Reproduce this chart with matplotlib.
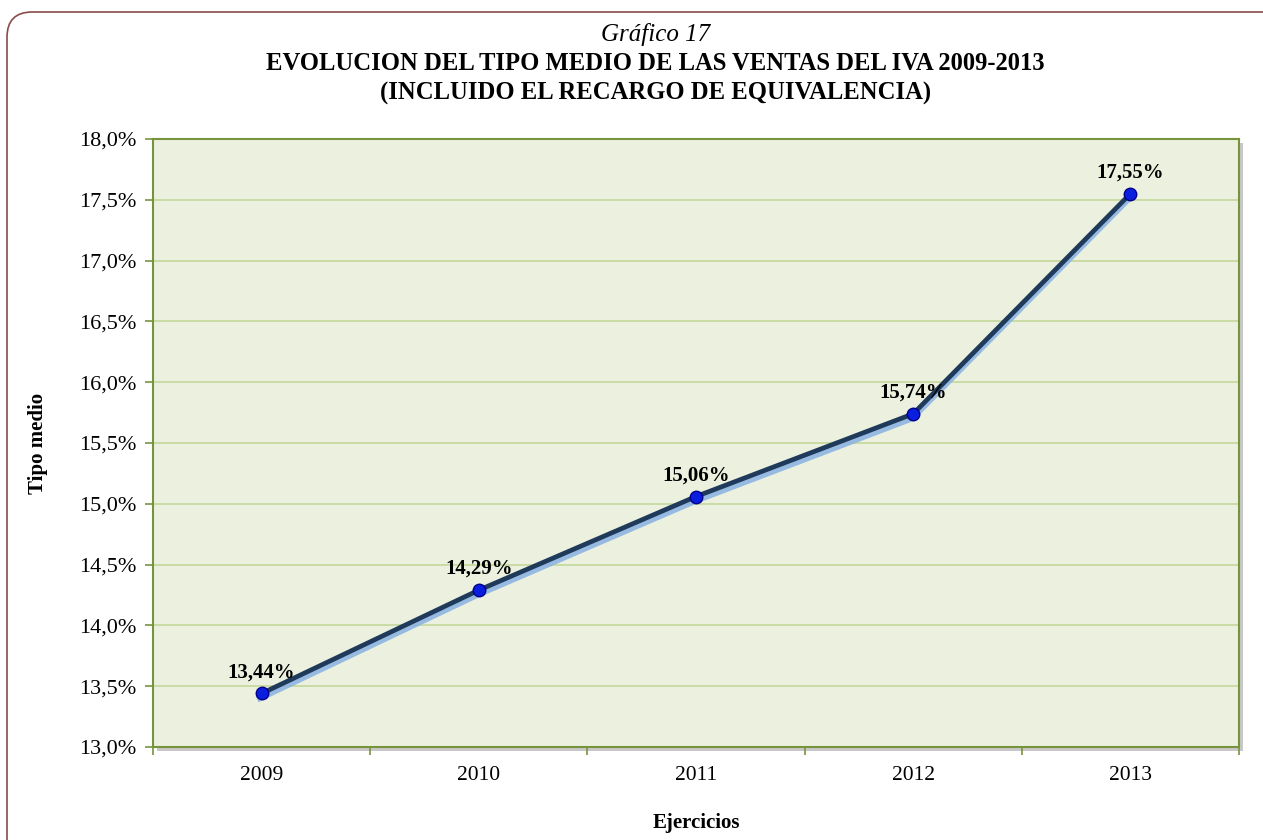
import matplotlib
matplotlib.use('Agg')
from matplotlib import pyplot as plt
from matplotlib import patheffects as pe
from matplotlib.patches import FancyBboxPatch, Rectangle

years = ['2009', '2010', '2011', '2012', '2013']
tipo_medio = [13.44, 14.29, 15.06, 15.74, 17.55]
etiquetas = ['13,44%', '14,29%', '15,06%', '15,74%', '17,55%']
y_ticks = [13.0, 13.5, 14.0, 14.5, 15.0, 15.5, 16.0, 16.5, 17.0, 17.5, 18.0]

plt.rcParams['font.family'] = ['Liberation Serif', 'DejaVu Serif']

fig = plt.figure(figsize=(12.63, 8.4), dpi=100)

# rounded outer frame
frame = FancyBboxPatch((7 / 1263, -0.1), 1.2, 1.1 - 12 / 840,
                       boxstyle='round,pad=0,rounding_size=0.02',
                       transform=fig.transFigure, facecolor='white',
                       edgecolor='#8a4a4a', linewidth=1.2, zorder=0,
                       mutation_aspect=1263 / 840)
fig.patches.append(frame)

# plot area shadow
shadow = Rectangle((153 / 1263 + 0.003, 1 - 747 / 840 - 0.005), 1086 / 1263, 608 / 840,
                   transform=fig.transFigure, facecolor='#c8c8c8', edgecolor='none', zorder=0.5)
fig.patches.append(shadow)

ax = fig.add_axes([153 / 1263, 1 - 747 / 840, 1086 / 1263, 608 / 840])
ax.set_zorder(2)

ax.set_facecolor('#ebf1de')
x = list(range(len(years)))
ax.plot(x, tipo_medio, color='#1f3a5a', linewidth=3.4, zorder=3,
        path_effects=[pe.SimpleLineShadow(offset=(-1, -3), shadow_color='#8db4e2', alpha=0.9, linewidth=5),
                      pe.Normal()])
ax.plot(x, tipo_medio, linestyle='none', marker='o', markersize=9,
        markerfacecolor='#0a1ee0', markeredgecolor='#00008a', markeredgewidth=1, zorder=4)

for xi, yi, lab in zip(x, tipo_medio, etiquetas):
    ax.annotate(lab, (xi, yi), xytext=(0, 8), textcoords='offset points',
                ha='center', va='bottom', fontsize=15, fontweight='bold', color='black')

ax.set_xlim(-0.5, 4.5)
ax.set_ylim(13.0, 18.0)
ax.set_yticks(y_ticks)
ax.set_yticklabels([('%.1f%%' % v).replace('.', ',') for v in y_ticks], fontsize=16)
ax.set_xticks(x)
ax.set_xticklabels(years, fontsize=15.5)
ax.set_xticks([i + 0.5 for i in range(-1, 5)], minor=True)
ax.tick_params(axis='x', which='major', length=0, pad=14)
ax.tick_params(axis='x', which='minor', length=6, color='#77933c', width=1.2)
ax.tick_params(axis='y', length=6, color='#77933c', width=1.2, pad=6)
ax.grid(axis='y', color='#c4d79b', linewidth=1.2)
ax.set_axisbelow(True)
for s in ax.spines.values():
    s.set_color('#77933c')
    s.set_linewidth(1.5)

ax.set_ylabel('Tipo medio', fontsize=15, fontweight='bold', labelpad=22)
ax.set_xlabel('Ejercicios', fontsize=15, fontweight='bold', labelpad=20)

fig.text(0.5 + 24 / 1263, 1 - 35 / 840, 'Gráfico 17', ha='center', va='center',
         fontsize=18, style='italic')
fig.text(0.5 + 24 / 1263, 1 - 64 / 840, 'EVOLUCION DEL TIPO MEDIO DE LAS VENTAS DEL IVA 2009-2013',
         ha='center', va='center', fontsize=17.7, fontweight='bold')
fig.text(0.5 + 24 / 1263, 1 - 93 / 840, '(INCLUIDO EL RECARGO DE EQUIVALENCIA)',
         ha='center', va='center', fontsize=17.7, fontweight='bold')

plt.savefig('out.png', dpi=100)
